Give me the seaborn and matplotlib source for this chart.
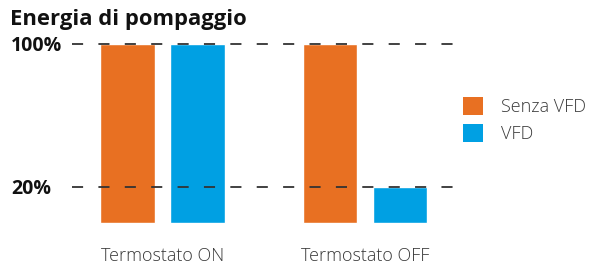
import pandas as pd
import matplotlib
matplotlib.use("Agg")
import matplotlib.pyplot as plt
import seaborn as sns
from matplotlib.patches import Patch

# ---------------- DATA ----------------
categories = ["Termostato ON", "Termostato OFF"]
series = ["Senza VFD", "VFD"]
senza_vfd = [100, 100]
vfd = [100, 20]
ref_levels = [20, 100]
ref_labels = ["20%", "100%"]
colors = ["#E87022", "#00A0E3"]
# --------------------------------------

df = pd.DataFrame({
    "categoria": categories * 2,
    "serie": [series[0]] * 2 + [series[1]] * 2,
    "valore": senza_vfd + vfd,
})

sns.set_style("white")
plt.rcParams["font.family"] = ["Open Sans", "DejaVu Sans"]
plt.rcParams["lines.scale_dashes"] = False

fig = plt.figure(figsize=(5.95, 2.64), dpi=100)
ax = fig.add_axes([72 / 595, 0.153, 385 / 595, 0.7345])

sns.barplot(
    data=df, x="categoria", y="valore", hue="serie",
    palette=colors, width=0.69, gap=0.217, ax=ax,
    legend=False, saturation=1, zorder=1,
)

for lvl in ref_levels:
    ax.axhline(lvl, color="#333333", lw=1.3, linestyle=(0, (8, 11)), zorder=3)

ax.set_xlim(-0.447, 1.454)
ax.set_ylim(-0.5, 108)
ax.set_yticks(ref_levels)
ax.set_yticklabels(ref_labels, fontsize=14, fontweight="bold", color="#111111",
                   family="Open Sans", ha="left")
# labels start at x=11px, axes left edge at 72px
ax.tick_params(axis="y", length=0, pad=61 * 72 / 100)
ax.tick_params(axis="x", length=0, pad=17, labelsize=13, labelcolor="#3a3a3a")
for lab in ax.get_xticklabels():
    lab.set_fontweight("light")
ax.set_xlabel("")
ax.set_ylabel("")
sns.despine(ax=ax, left=True, bottom=True)

fig.text(10 / 595, 1 - 19 / 264, "Energia di pompaggio", fontsize=15.8,
         fontweight="bold", color="#111111", va="center", ha="left")

handles = [Patch(facecolor=c, edgecolor="none") for c in colors]
leg = fig.legend(handles, series, loc="upper left", bbox_to_anchor=(447 / 595, 1 - 81 / 264),
                 frameon=False, fontsize=13, handlelength=1.1, handleheight=1.1,
                 handletextpad=1.0, labelspacing=0.45, labelcolor="#3a3a3a")
for t in leg.get_texts():
    t.set_fontweight("light")

fig.savefig("out.png", dpi=100)
